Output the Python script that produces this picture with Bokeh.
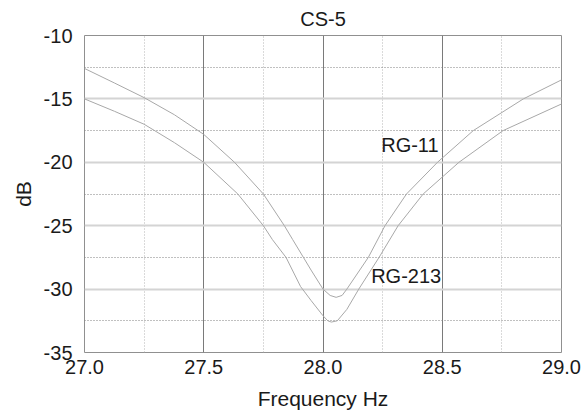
from bokeh.plotting import figure
from bokeh.models import FixedTicker, Range1d, ColumnDataSource
from bokeh.core.properties import value
from bokeh.embed import file_html
from bokeh.resources import INLINE

# Data
freq_upper = [27.0, 27.125, 27.25, 27.377, 27.5, 27.629, 27.75, 27.838, 27.873, 27.95,
              28.0, 28.03, 28.055, 28.08, 28.10, 28.19, 28.26, 28.35, 28.48, 28.63,
              28.84, 29.0]
db_upper = [-12.6, -13.74, -14.9, -16.25, -17.8, -20.0, -22.5, -25.0, -26.1, -28.5,
            -30.0, -30.5, -30.65, -30.5, -30.0, -27.5, -25.0, -22.5, -20.0, -17.5,
            -15.0, -13.5]

freq_lower = [27.0, 27.126, 27.25, 27.377, 27.5, 27.643, 27.75, 27.788, 27.845, 27.906,
              27.95, 28.0, 28.02, 28.035, 28.06, 28.1, 28.15, 28.235, 28.315, 28.42,
              28.57, 28.755, 29.0]
db_lower = [-15.0, -15.98, -17.0, -18.45, -20.0, -22.5, -25.0, -26.1, -27.5, -29.8,
            -30.9, -32.1, -32.5, -32.6, -32.5, -31.6, -30.0, -27.5, -25.0, -22.5,
            -20.0, -17.5, -15.4]

x_ticks = [27.0, 27.5, 28.0, 28.5, 29.0]
y_ticks = [-35, -30, -25, -20, -15, -10]
x_grid_major = [27.5, 28.0, 28.5]
x_grid_minor = [27.25, 27.75, 28.25, 28.75]
y_grid_major = [-30, -25, -20, -15]
y_grid_minor = [-32.5, -27.5, -22.5, -17.5, -12.5]

labels_text = ["RG-11", "RG-213"]
labels_x = [28.244, 28.202]
labels_y = [-18.67, -29.0]

FONT = "Liberation Sans"

p = figure(frame_width=477, frame_height=317, output_backend="svg", toolbar_location=None,
           x_range=Range1d(27.0, 29.0), y_range=Range1d(-35, -10),
           min_border_left=84, min_border_right=21, min_border_top=30, min_border_bottom=20,
           title="CS-5")
p.background_fill_color = "white"
p.border_fill_color = "white"
p.outline_line_color = "#909090"
p.outline_line_width = 1

p.title.align = "center"
p.title.text_font = FONT
p.title.text_font_size = "20px"
p.title.text_font_style = "normal"
p.title.text_color = "#1a1a1a"
p.title.standoff = 11

for ax in (p.xaxis[0], p.yaxis[0]):
    ax.axis_line_color = None
    ax.major_tick_line_color = None
    ax.minor_tick_line_color = None
    ax.major_tick_out = 0
    ax.major_tick_in = 0
    ax.major_label_text_font = FONT
    ax.major_label_text_font_size = "20px"
    ax.major_label_text_color = "#1a1a1a"
    ax.axis_label_text_font = FONT
    ax.axis_label_text_font_size = "21px"
    ax.axis_label_text_font_style = "normal"
    ax.axis_label_text_color = "#1a1a1a"

p.xaxis.ticker = FixedTicker(ticks=x_ticks)
p.xaxis.major_label_overrides = {t: f"{t:.1f}" for t in x_ticks}
p.yaxis.ticker = FixedTicker(ticks=y_ticks)
p.yaxis.major_label_overrides = {t: str(t) for t in y_ticks}
p.xaxis.axis_label = "Frequency Hz"
p.yaxis.axis_label = "dB"
p.xaxis.major_label_standoff = 7
p.yaxis.major_label_standoff = 12
p.xaxis.axis_label_standoff = 10
p.yaxis.axis_label_standoff = 6

p.xgrid.ticker = FixedTicker(ticks=x_grid_major, minor_ticks=x_grid_minor)
p.xgrid.grid_line_color = "#7a7a7a"
p.xgrid.grid_line_width = 1
p.xgrid.minor_grid_line_color = "#b4b4b4"
p.xgrid.minor_grid_line_dash = "1 2"
p.xgrid.minor_grid_line_width = 1

p.ygrid.ticker = FixedTicker(ticks=y_grid_major, minor_ticks=y_grid_minor)
p.ygrid.grid_line_color = "#d4d4d4"
p.ygrid.grid_line_width = 2
p.ygrid.minor_grid_line_color = "#808080"
p.ygrid.minor_grid_line_dash = "1 2"
p.ygrid.minor_grid_line_width = 1

p.line(freq_upper, db_upper, line_color="#a8a8a8", line_width=1)
p.line(freq_lower, db_lower, line_color="#a8a8a8", line_width=1)

src = ColumnDataSource(dict(x=labels_x, y=labels_y, t=labels_text))
p.text(x="x", y="y", text="t", source=src, text_font=value(FONT),
       text_font_size="20px", text_color="#1a1a1a",
       text_align="left", text_baseline="middle")

open("out.html", "w").write(file_html(p, INLINE))
